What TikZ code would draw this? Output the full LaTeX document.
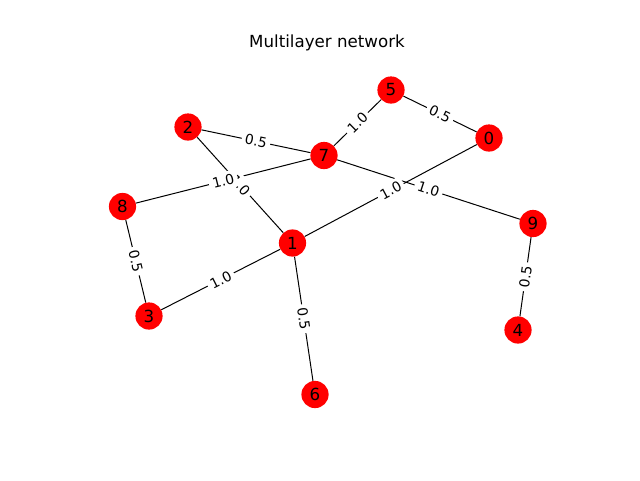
\documentclass[tikz,border=0pt]{standalone}
\usepackage{fontspec}
\setmainfont{DejaVu Sans}
\begin{document}
\begin{tikzpicture}[x=0.75pt,y=-0.75pt,
    vertex/.style={circle,fill=red,inner sep=0pt,minimum size=20.4pt,font=\fontsize{12.5}{14}\selectfont},
    link/.style={black,line width=0.75pt},
    weight/.style={midway,sloped,fill=white,rounded corners=2pt,inner sep=2.6pt,font=\fontsize{10.4}{12}\selectfont}]
    \useasboundingbox (0,0) rectangle (640,480);

    % Titolo
    \node (title) at (327,43) {\fontsize{12.5}{14}\selectfont Multilayer network};

    % Nodi
    \node[vertex] (n0) at (489,138) {0};
    \node[vertex] (n1) at (292.5,243) {1};
    \node[vertex] (n2) at (188,127) {2};
    \node[vertex] (n3) at (149,316) {3};
    \node[vertex] (n4) at (518,330) {4};
    \node[vertex] (n5) at (391,90) {5};
    \node[vertex] (n6) at (315,394.5) {6};
    \node[vertex] (n7) at (324,155.5) {7};
    \node[vertex] (n8) at (122.5,206.5) {8};
    \node[vertex] (n9) at (533,223.5) {9};

    % Archi
    \draw[link] (n5) -- (n0);
    \draw[link] (n5) -- (n7);
    \draw[link] (n2) -- (n7);
    \draw[link] (n2) -- (n1);
    \draw[link] (n8) -- (n7);
    \draw[link] (n7) -- (n9);
    \draw[link] (n0) -- (n1);
    \draw[link] (n8) -- (n3);
    \draw[link] (n3) -- (n1);
    \draw[link] (n1) -- (n6);
    \draw[link] (n9) -- (n4);

    % Pesi
    \path (n5) -- (n0) node[weight] {0.5};
    \path (n5) -- (n7) node[weight] {1.0};
    \path (n2) -- (n7) node[weight] {0.5};
    \path (n2) -- (n1) node[weight] {1.0};
    \path (n8) -- (n7) node[weight] {1.0};
    \path (n7) -- (n9) node[weight] {1.0};
    \path (n0) -- (n1) node[weight] {1.0};
    \path (n8) -- (n3) node[weight] {0.5};
    \path (n3) -- (n1) node[weight] {1.0};
    \path (n1) -- (n6) node[weight] {0.5};
    \path (n9) -- (n4) node[weight] {0.5};
\end{tikzpicture}
\end{document}
